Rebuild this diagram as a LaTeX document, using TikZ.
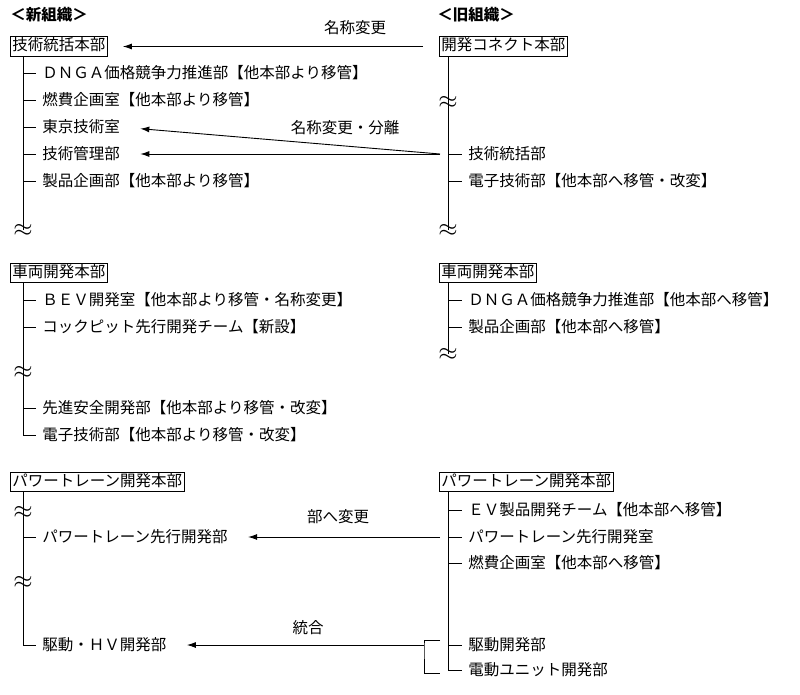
\documentclass[tikz,border=0pt]{standalone}
\usepackage{fontspec}
\setmainfont{Noto Sans CJK JP}
\usetikzlibrary{arrows.meta,positioning}

\tikzset{
  hq/.style={draw,anchor=west,inner xsep=2pt,inner ysep=2pt,text height=12pt,text depth=3.5pt},
  unit/.style={anchor=west,inner sep=0pt},
  org/.style={anchor=west,inner sep=0pt,font=\fontsize{15.5}{18}\selectfont\bfseries},
  note/.style={inner sep=0pt},
  wave/.style={inner sep=0pt,font=\fontsize{24}{24}\selectfont},
  arr/.style={-{Latex[length=9pt,width=6pt]}},
}

\begin{document}
\begin{tikzpicture}[x=1pt,y=-1pt,font=\fontsize{15.5}{18}\selectfont,line width=0.9pt]
  \useasboundingbox (0,0) rectangle (800,694);
  \coordinate (trunkL) at (23,0);
  \coordinate (trunkR) at (448,0);

  % headings
  \node[org] (newOrg) at (10,15) {＜新組織＞};
  \node[org] (oldOrg) at (437,15) {＜旧組織＞};

  % technology hq
  \node[hq] (newTech) at (10,46.5) {技術統括本部};
  \node[unit] (newDNGA) at (42,73) {ＤＮＧＡ価格競争力推進部【他本部より移管】};
  \node[unit] (newFuel) at (42,100) {燃費企画室【他本部より移管】};
  \node[unit] (newTokyo) at (42,127) {東京技術室};
  \node[unit] (newTechMgmt) at (42,154) {技術管理部};
  \node[unit] (newProd) at (42,181) {製品企画部【他本部より移管】};
  \node[wave] (newWave1) at (23,230) {$\approx$};
  \draw (newTech.south -| trunkL) -- (newWave1.center);
  \foreach \n in {newDNGA,newFuel,newTokyo,newTechMgmt,newProd}
    \draw (\n.west -| trunkL) -- ([xshift=-6pt]\n.west);

  \node[hq] (oldConnect) at (439,46.5) {開発コネクト本部};
  \node[unit] (oldTechGen) at (468,154) {技術統括部};
  \node[unit] (oldElec) at (468,181) {電子技術部【他本部へ移管・改変】};
  \node[wave] (oldWave1) at (448,102) {$\approx$};
  \node[wave] (oldWave2) at (448,230) {$\approx$};
  \draw (oldConnect.south -| trunkR) -- (oldWave2.center);
  \foreach \n in {oldTechGen,oldElec}
    \draw (\n.west -| trunkR) -- ([xshift=-6pt]\n.west);

  % renames
  \coordinate (splitPt) at ([xshift=-28pt]oldTechGen.west);
  \draw[arr,shorten <=16pt,shorten >=15pt] (oldConnect.west) -- (newTech.east);
  \draw[arr,shorten >=20pt] (splitPt) -- (newTokyo.east);
  \draw[arr,shorten >=20pt] (splitPt) -- (newTechMgmt.east);
  \node[note] (lblRename) at (355,28) {名称変更};
  \node[note] (lblSplit) at (345,128) {名称変更・分離};

  % vehicle hq
  \node[hq] (newCar) at (10,273) {車両開発本部};
  \node[unit] (newBEV) at (42,300) {ＢＥＶ開発室【他本部より移管・名称変更】};
  \node[unit] (newCockpit) at (42,327) {コックピット先行開発チーム【新設】};
  \node[unit] (newSafety) at (42,408) {先進安全開発部【他本部より移管・改変】};
  \node[unit] (newElec) at (42,435) {電子技術部【他本部より移管・改変】};
  \draw (newCar.south -| trunkL) |- ([xshift=-6pt]newElec.west);
  \node[wave] (newWave2) at (23,372) {$\approx$};
  \foreach \n in {newBEV,newCockpit,newSafety}
    \draw (\n.west -| trunkL) -- ([xshift=-6pt]\n.west);

  \node[hq] (oldCar) at (439,273) {車両開発本部};
  \node[unit] (oldDNGA) at (468,300) {ＤＮＧＡ価格競争力推進部【他本部へ移管】};
  \node[unit] (oldProd) at (468,327) {製品企画部【他本部へ移管】};
  \node[wave] (oldWave3) at (448,354) {$\approx$};
  \draw (oldCar.south -| trunkR) -- (oldWave3.center);
  \foreach \n in {oldDNGA,oldProd}
    \draw (\n.west -| trunkR) -- ([xshift=-6pt]\n.west);

  % powertrain hq
  \node[hq] (newPT) at (10,482) {パワートレーン開発本部};
  \node[unit] (newPTAdv) at (42,537) {パワートレーン先行開発部};
  \node[unit] (newDrive) at (42,645) {駆動・ＨＶ開発部};
  \draw (newPT.south -| trunkL) |- ([xshift=-6pt]newDrive.west);
  \node[wave] (newWave3) at (23,512) {$\approx$};
  \node[wave] (newWave4) at (23,582) {$\approx$};
  \draw (newPTAdv.west -| trunkL) -- ([xshift=-6pt]newPTAdv.west);

  \node[hq] (oldPT) at (439,482) {パワートレーン開発本部};
  \node[unit] (oldEV) at (468,510) {ＥＶ製品開発チーム【他本部へ移管】};
  \node[unit] (oldPTAdv) at (468,537) {パワートレーン先行開発室};
  \node[unit] (oldFuel) at (468,563) {燃費企画室【他本部へ移管】};
  \node[unit] (oldDrive) at (468,645) {駆動開発部};
  \node[unit] (oldEUnit) at (468,670) {電動ユニット開発部};
  \draw (oldPT.south -| trunkR) |- ([xshift=-6pt]oldEUnit.west);
  \foreach \n in {oldEV,oldPTAdv,oldFuel,oldDrive}
    \draw (\n.west -| trunkR) -- ([xshift=-6pt]\n.west);

  % merge bracket
  \coordinate (mergeTop) at (440,640);
  \coordinate (mergeBot) at (440,673);
  \coordinate (mergeMid) at (424,645);
  \draw (mergeTop) -| (mergeMid) |- (mergeBot);
  \draw[arr,shorten <=28pt,shorten >=20pt] (oldPTAdv.west) -- (newPTAdv.east);
  \draw[arr,shorten >=20pt] (mergeMid) -- (newDrive.east);
  \node[note] (lblDept) at (338,517) {部へ変更};
  \node[note] (lblMerge) at (308,628) {統合};
\end{tikzpicture}
\end{document}
